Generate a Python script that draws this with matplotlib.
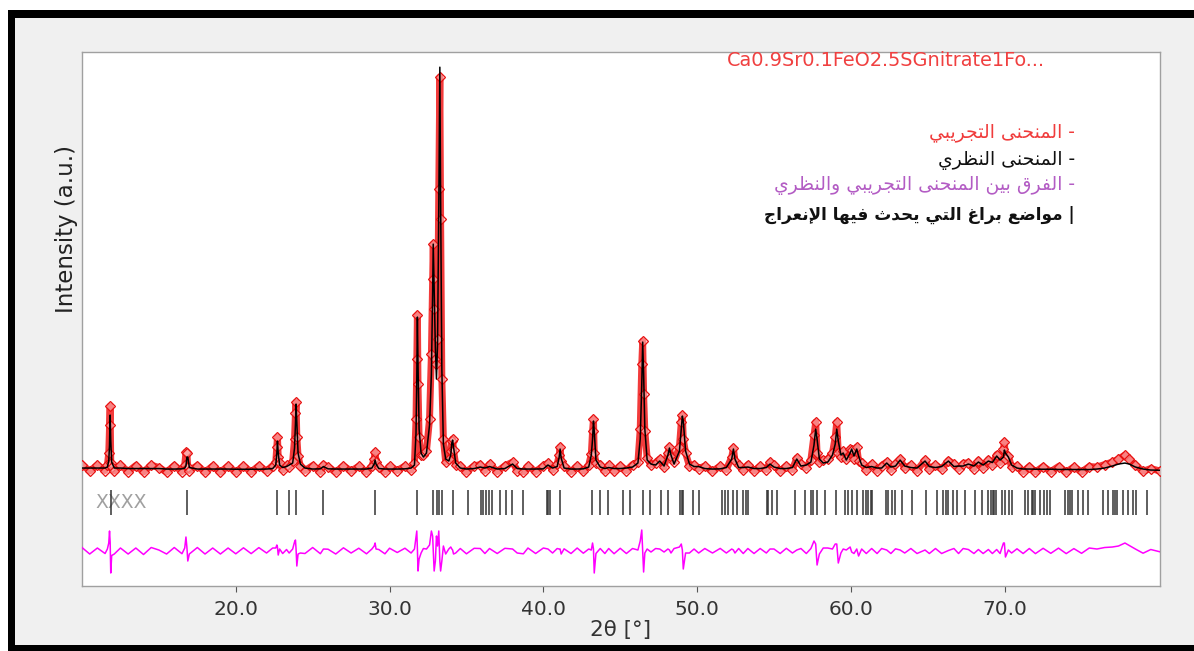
import matplotlib
matplotlib.use('Agg')
import matplotlib.pyplot as plt
from matplotlib.patches import Rectangle
import numpy as np

# Refinement profile: 2theta, observed counts, calculated counts
two_theta = [
    10.0, 10.5, 11.0, 11.5, 11.65, 11.74, 11.79, 11.83, 11.87, 11.93,
    12.1, 12.5, 13.0, 13.5, 14.0, 14.5, 15.0, 15.5, 16.0, 16.5,
    16.68, 16.76, 16.82, 16.88, 16.98, 17.5, 18.0, 18.5, 19.0, 19.5,
    20.0, 20.5, 21.0, 21.5, 22.0, 22.4, 22.6, 22.67, 22.71, 22.76,
    22.85, 23.05, 23.3, 23.47, 23.7, 23.82, 23.88, 23.92, 23.97, 24.05,
    24.2, 24.5, 25.0, 25.5, 25.7, 26.0, 26.5, 27.0, 27.5, 28.0,
    28.5, 28.85, 29.0, 29.06, 29.12, 29.3, 29.7, 30.0, 30.5, 31.0,
    31.4, 31.62, 31.72, 31.77, 31.81, 31.85, 31.92, 32.05, 32.2, 32.4,
    32.6, 32.72, 32.8, 32.84, 32.9, 32.98, 33.05, 33.12, 33.2, 33.27,
    33.32, 33.4, 33.5, 33.65, 33.85, 33.98, 34.05, 34.1, 34.16, 34.3,
    34.6, 35.0, 35.5, 35.9, 36.2, 36.5, 37.0, 37.5, 38.0, 38.3,
    38.7, 39.0, 39.5, 40.0, 40.3, 40.6, 40.9, 41.03, 41.09, 41.16,
    41.35, 41.8, 42.2, 42.6, 42.95, 43.12, 43.2, 43.26, 43.31, 43.42,
    43.7, 44.0, 44.25, 44.6, 45.0, 45.4, 45.8, 46.15, 46.3, 46.4,
    46.46, 46.52, 46.6, 46.75, 47.0, 47.3, 47.57, 47.85, 48.1, 48.2,
    48.3, 48.5, 48.85, 48.97, 49.04, 49.1, 49.25, 49.5, 49.8, 50.1,
    50.5, 51.0, 51.5, 51.9, 52.25, 52.36, 52.46, 52.7, 53.0, 53.3,
    53.7, 54.1, 54.5, 54.74, 55.0, 55.4, 55.8, 56.2, 56.48, 56.75,
    57.1, 57.4, 57.6, 57.71, 57.8, 57.95, 58.2, 58.5, 58.8, 58.98,
    59.08, 59.18, 59.35, 59.5, 59.7, 59.95, 60.05, 60.2, 60.38, 60.5,
    60.7, 61.0, 61.35, 61.7, 62.0, 62.33, 62.6, 62.9, 63.2, 63.5,
    63.9, 64.3, 64.82, 65.1, 65.5, 65.9, 66.34, 66.7, 67.0, 67.3,
    67.64, 68.0, 68.29, 68.6, 68.94, 69.2, 69.48, 69.7, 69.92, 69.98,
    70.05, 70.24, 70.45, 70.8, 71.2, 71.6, 72.0, 72.5, 73.0, 73.5,
    74.0, 74.5, 75.0, 75.5, 76.0, 76.5, 77.0, 77.4, 77.82, 78.1,
    78.5, 79.0, 79.5, 80.1,
]
i_obs = [
    445, 380, 440, 385, 440, 560, 840, 1030, 460, 425,
    380, 440, 375, 435, 370, 440, 415, 370, 435, 375,
    440, 570, 560, 420, 385, 435, 370, 430, 370, 430,
    370, 430, 372, 432, 380, 435, 470, 620, 720, 520,
    460, 390, 440, 420, 480, 700, 960, 1070, 720, 530,
    430, 385, 435, 375, 445, 420, 370, 432, 380, 428,
    372, 430, 500, 570, 470, 420, 372, 428, 385, 430,
    390, 460, 900, 1500, 1940, 1250, 720, 540, 545, 580,
    900, 1550, 2300, 2650, 2000, 1500, 1450, 1700, 3200, 4320,
    2900, 1300, 700, 470, 500, 580, 680, 700, 590, 440,
    435, 372, 432, 445, 385, 450, 375, 432, 470, 385,
    372, 430, 375, 432, 460, 390, 450, 540, 620, 480,
    432, 375, 430, 380, 440, 550, 780, 900, 560, 465,
    445, 380, 440, 378, 432, 385, 445, 470, 800, 1450,
    1680, 1150, 780, 510, 440, 465, 500, 420, 560, 620,
    520, 475, 620, 870, 940, 700, 560, 430, 445, 405,
    430, 380, 428, 395, 520, 610, 480, 440, 390, 445,
    380, 430, 395, 470, 440, 380, 432, 395, 510, 455,
    415, 495, 740, 870, 560, 470, 490, 500, 560, 720,
    870, 560, 520, 580, 500, 600, 590, 505, 620, 480,
    460, 390, 450, 385, 435, 470, 395, 452, 500, 410,
    440, 385, 490, 400, 440, 400, 485, 450, 405, 455,
    465, 405, 485, 415, 495, 440, 545, 465, 600, 670,
    500, 530, 420, 432, 375, 425, 372, 425, 375, 425,
    370, 420, 372, 425, 420, 445, 470, 500, 540, 505,
    440, 378, 405, 380,
]
i_calc = [
    410, 410, 410, 410, 420, 480, 640, 940, 680, 470,
    410, 410, 405, 405, 405, 405, 405, 400, 400, 402,
    410, 430, 520, 520, 415, 400, 400, 400, 400, 400,
    398, 398, 398, 398, 400, 405, 440, 560, 680, 560,
    440, 415, 425, 440, 460, 610, 850, 1050, 870, 560,
    450, 410, 400, 402, 425, 402, 400, 400, 400, 400,
    400, 410, 450, 490, 450, 405, 400, 400, 400, 402,
    410, 440, 760, 1300, 1920, 1450, 800, 560, 520, 560,
    840, 1350, 2150, 2650, 2200, 1600, 1300, 1650, 3000, 4420,
    3100, 1400, 650, 500, 480, 540, 660, 690, 620, 460,
    410, 400, 405, 420, 410, 425, 400, 405, 450, 405,
    400, 400, 400, 402, 440, 410, 425, 520, 600, 510,
    410, 400, 400, 402, 420, 540, 700, 880, 780, 490,
    420, 405, 415, 405, 405, 410, 420, 460, 700, 1240,
    1670, 1360, 800, 490, 450, 440, 480, 430, 540, 610,
    540, 450, 580, 800, 930, 880, 580, 450, 425, 425,
    405, 400, 402, 415, 500, 600, 500, 415, 415, 420,
    405, 405, 415, 450, 420, 405, 405, 415, 500, 430,
    440, 470, 640, 800, 700, 500, 460, 470, 540, 650,
    800, 680, 540, 560, 490, 560, 600, 530, 600, 530,
    440, 415, 425, 410, 410, 460, 420, 430, 490, 430,
    415, 410, 480, 425, 415, 425, 480, 425, 430, 430,
    450, 430, 470, 440, 480, 465, 530, 490, 520, 590,
    560, 520, 440, 410, 400, 400, 398, 398, 398, 396,
    396, 396, 395, 395, 400, 410, 430, 450, 460, 450,
    420, 400, 390, 388,
]

# Bragg reflection positions (2theta)
bragg_pos = [
    11.9, 16.86, 22.71, 23.47, 23.92, 25.70, 29.06, 31.81, 32.85, 33.11,
    33.24, 33.39, 34.11, 35.08, 35.95, 36.10, 36.27, 36.47, 36.64, 37.19,
    37.58, 37.99, 38.66, 40.24, 40.33, 40.44, 41.09, 43.19, 43.69, 44.23,
    45.21, 45.64, 46.46, 46.94, 47.65, 48.13, 48.89, 49.00, 49.11, 49.76,
    50.12, 51.60, 51.81, 52.04, 52.36, 52.58, 53.01, 53.16, 53.34, 54.53,
    54.64, 54.90, 55.18, 56.37, 57.02, 57.41, 57.56, 57.78, 58.32, 59.03,
    59.62, 59.84, 60.05, 60.38, 60.81, 60.96, 61.14, 61.31, 61.40, 62.27,
    62.40, 62.65, 62.87, 63.30, 63.95, 64.86, 65.58, 66.01, 66.16, 66.34,
    66.66, 66.88, 67.42, 68.07, 68.55, 68.94, 69.11, 69.27, 69.33, 69.41,
    69.85, 70.02, 70.28, 70.46, 71.32, 71.54, 71.76, 71.87, 71.98, 72.30,
    72.53, 72.73, 72.95, 73.92, 74.10, 74.25, 74.41, 74.79, 75.12, 75.44,
    76.42, 76.70, 77.03, 77.17, 77.28, 77.71, 78.04, 78.37, 78.52, 79.23,
]

x_ticks = [20, 30, 40, 50, 60, 70]
sample_name = 'Ca0.9Sr0.1FeO2.5SGnitrate1Fo...'
legend_lines = [
    '- المنحنى التجريبي',
    '- المنحنى النظري',
    '- الفرق بين المنحنى التجريبي والنظري',
    '| مواضع براغ التي يحدث فيها الإنعراج',
]
legend_colors = ['#f03c3c', '#111111', '#b35cc4', '#111111']

DIFF_OFFSET = -420
TICK_LOW, TICK_HIGH = -60, 190

# Arabic letter forms: isolated, final, initial, medial
FORMS = {
    'ا': ('\ufe8d', '\ufe8e', None, None),
    'إ': ('\ufe87', '\ufe88', None, None),
    'ب': ('\ufe8f', '\ufe90', '\ufe91', '\ufe92'),
    'ت': ('\ufe95', '\ufe96', '\ufe97', '\ufe98'),
    'ث': ('\ufe99', '\ufe9a', '\ufe9b', '\ufe9c'),
    'ج': ('\ufe9d', '\ufe9e', '\ufe9f', '\ufea0'),
    'ح': ('\ufea1', '\ufea2', '\ufea3', '\ufea4'),
    'د': ('\ufea9', '\ufeaa', None, None),
    'ر': ('\ufead', '\ufeae', None, None),
    'ض': ('\ufebd', '\ufebe', '\ufebf', '\ufec0'),
    'ظ': ('\ufec5', '\ufec6', '\ufec7', '\ufec8'),
    'ع': ('\ufec9', '\ufeca', '\ufecb', '\ufecc'),
    'غ': ('\ufecd', '\ufece', '\ufecf', '\ufed0'),
    'ف': ('\ufed1', '\ufed2', '\ufed3', '\ufed4'),
    'ق': ('\ufed5', '\ufed6', '\ufed7', '\ufed8'),
    'ل': ('\ufedd', '\ufede', '\ufedf', '\ufee0'),
    'م': ('\ufee1', '\ufee2', '\ufee3', '\ufee4'),
    'ن': ('\ufee5', '\ufee6', '\ufee7', '\ufee8'),
    'ه': ('\ufee9', '\ufeea', '\ufeeb', '\ufeec'),
    'و': ('\ufeed', '\ufeee', None, None),
    'ى': ('\ufeef', '\ufef0', None, None),
    'ي': ('\ufef1', '\ufef2', '\ufef3', '\ufef4'),
}
LAM_ALEF = {
    'ا': ('\ufefb', '\ufefc'),
    'إ': ('\ufef9', '\ufefa'),
    'أ': ('\ufef7', '\ufef8'),
    'آ': ('\ufef5', '\ufef6'),
}


def joins_next(c):
    f = FORMS.get(c)
    return f is not None and f[2] is not None


def shape_arabic(text):
    # matplotlib has no bidi/shaping, so pick contextual forms and reverse
    tokens = []
    i = 0
    while i < len(text):
        c = text[i]
        if c == 'ل' and i + 1 < len(text) and text[i + 1] in LAM_ALEF:
            tokens.append(('la', text[i + 1]))
            i += 2
        else:
            tokens.append(('c', c))
            i += 1
    out = []
    for k, (kind, c) in enumerate(tokens):
        prev = tokens[k - 1] if k > 0 else None
        nxt = tokens[k + 1] if k + 1 < len(tokens) else None
        jp = prev is not None and prev[0] == 'c' and joins_next(prev[1])
        if kind == 'la':
            out.append(LAM_ALEF[c][1 if jp else 0])
            continue
        f = FORMS.get(c)
        if f is None:
            out.append(c)
            continue
        jn = nxt is not None and joins_next(c) and (nxt[0] == 'la' or nxt[1] in FORMS)
        if jp and jn:
            out.append(f[3])
        elif jp:
            out.append(f[1])
        elif jn:
            out.append(f[2])
        else:
            out.append(f[0])
    return ''.join(reversed(out))


tth = np.array(two_theta)
obs = np.array(i_obs)
calc = np.array(i_calc)

W, H = 1194, 651
fig = plt.figure(figsize=(W / 100, H / 100), dpi=100)
fig.patch.set_facecolor('white')

# window frame behind the plot
bg = fig.add_axes([0, 0, 1, 1], zorder=-10)
bg.set_xlim(0, W)
bg.set_ylim(H, 0)
bg.axis('off')
bg.add_patch(Rectangle((15, 18), W - 15, 627, color='#f0f0f0', lw=0))
bg.add_patch(Rectangle((8, 10), 7, H - 10, color='black', lw=0))
bg.add_patch(Rectangle((8, 10), W - 8, 8, color='black', lw=0))
bg.add_patch(Rectangle((8, 645), W - 8, 6, color='black', lw=0))

ax = fig.add_axes([82 / W, 65 / H, 1078 / W, 534.3 / H])
ax.set_facecolor('white')

ax.plot(tth, obs, color='#f01818', lw=5, alpha=0.85, solid_joinstyle='round',
        solid_capstyle='round', zorder=2)
ax.plot(tth, obs, ls='none', marker='D', ms=5.5, mfc=(1, 0.8, 0.8, 0.5),
        mec='#e81010', mew=0.9, zorder=3)
ax.plot(tth, calc, color='black', lw=1.1, zorder=4)
ax.plot(tth, obs - calc + DIFF_OFFSET, color='#ff00ff', lw=1.1, zorder=4)
ax.vlines(bragg_pos, TICK_LOW, TICK_HIGH, color='#333333', lw=1.1, zorder=3)
ax.text(10.85, (TICK_LOW + TICK_HIGH) / 2, 'XXXX', color='#a0a0a0', fontsize=13.5,
        va='center', ha='left', zorder=2)

ax.set_xlim(10, 80.1)
ax.set_ylim(-770, 4575)
ax.set_xticks(x_ticks)
ax.set_xticklabels([f'{v:.1f}' for v in x_ticks])
ax.set_yticks([])
ax.tick_params(axis='x', direction='out', length=4, color='#555555',
               labelsize=14.5, labelcolor='#333333', pad=6)
for s in ax.spines.values():
    s.set_color('#a0a0a0')
    s.set_linewidth(1)

ax.set_xlabel('2θ [°]', fontsize=15.5, color='#333333', labelpad=1)
ax.set_ylabel('Intensity (a.u.)', fontsize=16.5, color='#222222')
ax.yaxis.set_label_coords(-0.004, 0.668)

ax.text(0.598, 0.984, sample_name, transform=ax.transAxes, color='#f04040',
        fontsize=13.9, va='center', ha='left')

legend_y = [0.848, 0.797, 0.749, 0.694]
legend_size = [13.5, 13.5, 13.5, 12.2]
legend_weight = ['normal', 'normal', 'normal', 'bold']
for k, line in enumerate(legend_lines):
    ax.text(0.921, legend_y[k], shape_arabic(line), transform=ax.transAxes,
            color=legend_colors[k], fontsize=legend_size[k], fontweight=legend_weight[k],
            ha='right', va='center', family='DejaVu Sans')

fig.savefig('out.png', dpi=100)
